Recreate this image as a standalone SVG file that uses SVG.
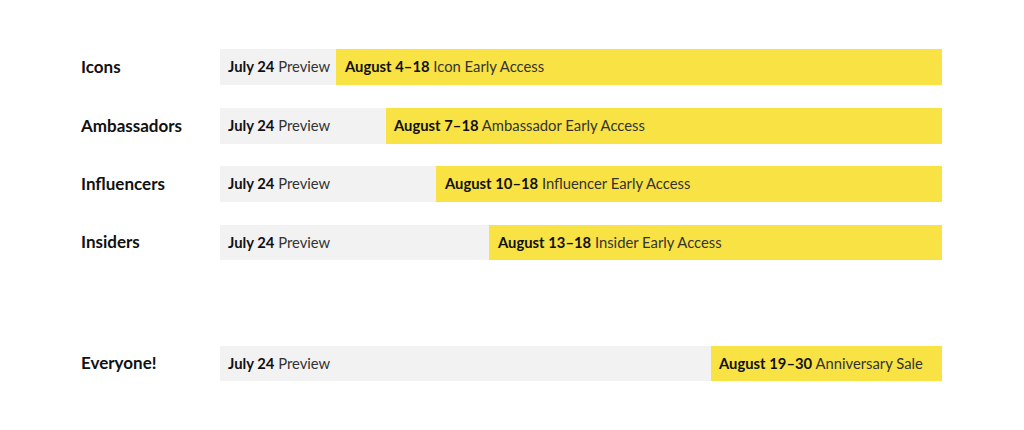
<svg xmlns="http://www.w3.org/2000/svg" width="1024" height="430" viewBox="0 0 1024 430">
<style>
.bg{fill:#fff}
.gray{fill:#f2f2f2}
.yel{fill:#f9e244}
.lab{font-family:Lato,"Liberation Sans",sans-serif;font-weight:700;font-size:17px;fill:#111}
.t{font-family:Lato,"Liberation Sans",sans-serif;font-size:14.8px;fill:#333}
.b{font-weight:700;fill:#111}
</style>
<rect class="bg" width="1024" height="430"/>
<g id="icons">
<text class="lab" x="81" y="73">Icons</text>
<rect class="gray" x="220" y="49" width="722" height="36"/>
<rect class="yel" x="336" y="49" width="606" height="36"/>
<text class="t" x="228" y="72"><tspan class="b">July 24</tspan> Preview</text>
<text class="t" x="345" y="72"><tspan class="b">August 4–18</tspan> Icon Early Access</text>
</g>
<g id="ambassadors">
<text class="lab" x="81" y="132">Ambassadors</text>
<rect class="gray" x="220" y="108" width="722" height="36"/>
<rect class="yel" x="386" y="108" width="556" height="36"/>
<text class="t" x="228" y="131"><tspan class="b">July 24</tspan> Preview</text>
<text class="t" x="394" y="131"><tspan class="b">August 7–18</tspan> Ambassador Early Access</text>
</g>
<g id="influencers">
<text class="lab" x="81" y="190">Influencers</text>
<rect class="gray" x="220" y="166" width="722" height="36"/>
<rect class="yel" x="436" y="166" width="506" height="36"/>
<text class="t" x="228" y="189"><tspan class="b">July 24</tspan> Preview</text>
<text class="t" x="445" y="189"><tspan class="b">August 10–18</tspan> Influencer Early Access</text>
</g>
<g id="insiders">
<text class="lab" x="81" y="248">Insiders</text>
<rect class="gray" x="220" y="225" width="722" height="35"/>
<rect class="yel" x="489" y="225" width="453" height="35"/>
<text class="t" x="228" y="248"><tspan class="b">July 24</tspan> Preview</text>
<text class="t" x="498" y="248"><tspan class="b">August 13–18</tspan> Insider Early Access</text>
</g>
<g id="everyone">
<text class="lab" x="81" y="369">Everyone!</text>
<rect class="gray" x="220" y="346" width="722" height="35"/>
<rect class="yel" x="711" y="346" width="231" height="35"/>
<text class="t" x="228" y="369"><tspan class="b">July 24</tspan> Preview</text>
<text class="t" x="719" y="369"><tspan class="b">August 19–30</tspan> Anniversary Sale</text>
</g>
<g id="connectors"></g>
</svg>
